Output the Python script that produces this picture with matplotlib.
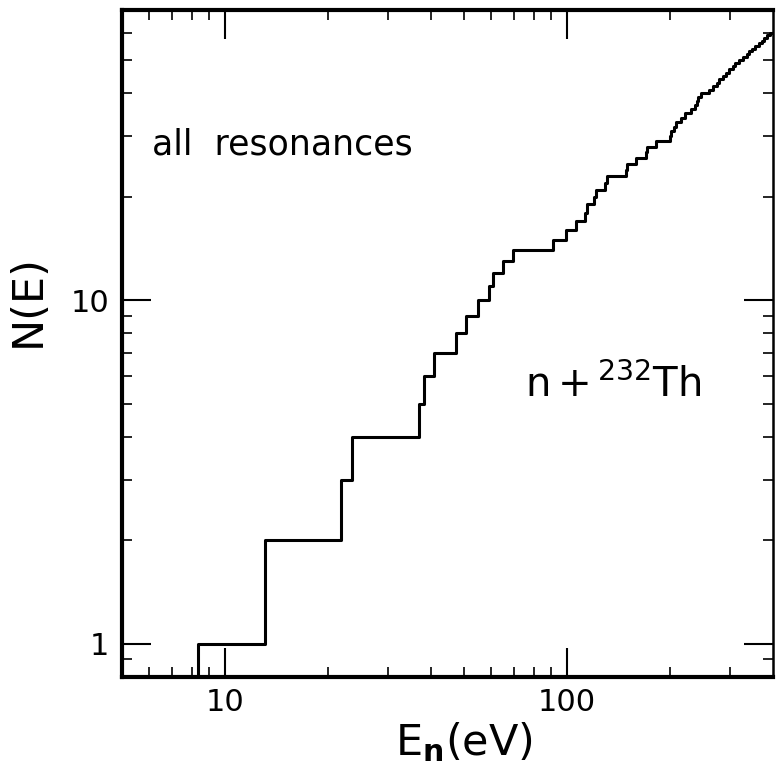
import numpy as np
import matplotlib
matplotlib.use('Agg')
import matplotlib.pyplot as plt
from matplotlib.ticker import FixedLocator, NullFormatter, FuncFormatter

matplotlib.rcParams.update({
    'font.family': 'DejaVu Sans',
    'font.size': 22,
    'mathtext.default': 'regular',
})

energies = [
    8.35, 13.1, 21.8, 23.6, 37.0, 38.2, 41.0, 47.4, 50.7, 54.9,
    59.0, 60.9, 65.2, 69.7, 91.2, 99.3, 106.0, 113.0, 114.5, 120.0,
    121.5, 129.5, 131.0, 148.5, 150.0, 159.6, 170.0, 171.5, 182.6, 200.0,
    202.0, 206.0, 209.0, 216.0, 221.0, 231.0, 236.0, 240.0, 242.0, 247.0,
    261.0, 268.0, 274.0, 279.0, 285.0, 292.0, 298.0, 305.0, 309.0, 318.0,
    326.0, 336.0, 341.0, 348.0, 355.0, 365.0, 372.0, 378.0, 385.0, 393.0,
]
x_limits = (5, 400)
y_limits = (0.8, 70)
x_major = [10, 100]
x_minor = [6, 7, 8, 9, 20, 30, 40, 50, 60, 70, 80, 90, 200, 300]
y_major = [1, 10]
y_minor = [0.9, 2, 3, 4, 5, 6, 7, 8, 9, 20, 30, 40, 50, 60]

counts = np.arange(1, len(energies) + 1)

fig = plt.figure(figsize=(7.76, 7.76), dpi=100)
ax = fig.add_axes([0.157, 0.1276, 0.839, 0.8596])

# staircase: vertical rise at first resonance, then one step per resonance
xs = np.concatenate([[energies[0]], energies, [x_limits[1]]])
ys = np.concatenate([[0.5], counts, [counts[-1]]])
ax.step(xs, ys, where='post', color='black', lw=2.2)

ax.set_xscale('log')
ax.set_yscale('log')
ax.set_xlim(*x_limits)
ax.set_ylim(*y_limits)

plain = FuncFormatter(lambda v, pos: f'{v:g}')
ax.xaxis.set_major_locator(FixedLocator(x_major))
ax.xaxis.set_minor_locator(FixedLocator(x_minor))
ax.yaxis.set_major_locator(FixedLocator(y_major))
ax.yaxis.set_minor_locator(FixedLocator(y_minor))
ax.xaxis.set_major_formatter(plain)
ax.yaxis.set_major_formatter(plain)
ax.xaxis.set_minor_formatter(NullFormatter())
ax.yaxis.set_minor_formatter(NullFormatter())

ax.tick_params(which='both', direction='in', top=True, right=True, color='black')
ax.tick_params(which='major', length=21, width=1.5, labelsize=22)
ax.tick_params(axis='x', which='major', pad=8)
ax.tick_params(axis='y', which='major', pad=9)
ax.tick_params(which='minor', length=7, width=1.2)

for side in ['left', 'bottom', 'top']:
    ax.spines[side].set_linewidth(3)
ax.spines['right'].set_linewidth(1.8)

ax.text(0.046, 0.783, 'all  resonances', transform=ax.transAxes,
        fontsize=25, va='baseline', ha='left')
ax.text(0.619, 0.42, r'n$\,$+$\,^{232}$Th', transform=ax.transAxes,
        fontsize=29, va='baseline', ha='left')

fig.text(0.598, 0.027, r'E$_\mathbf{n}$(eV)', fontsize=31,
         ha='center', va='baseline')
fig.text(0.036, 0.613, 'N(E)', fontsize=31, rotation=90,
         ha='center', va='center')

fig.savefig('out.png', dpi=100)
